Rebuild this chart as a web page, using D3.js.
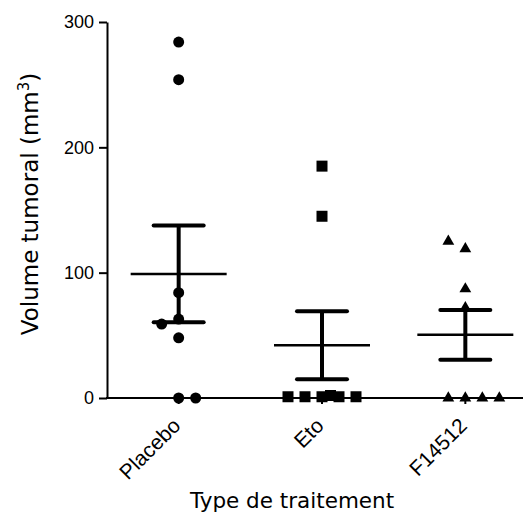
<!DOCTYPE html>
<html>
<head>
<meta charset="utf-8">
<script src="https://cdn.jsdelivr.net/npm/d3@7"></script>
<style>
  body { margin: 0; background: #fff; }
  .axis path, .axis line { stroke: #000; stroke-width: 2px; }
  .axis text { font-family: "Liberation Sans", Arial, sans-serif; font-size: 18px; fill: #000; }
  .x-labels text { font-size: 21px; }
  .title { font-family: "DejaVu Sans", Verdana, sans-serif; font-size: 21.5px; fill: #000; }
</style>
</head>
<body>
<div id="chart"></div>
<script>
// groups shown on the x axis
const categories = ['Placebo', 'Eto', 'F14512'];
const yTicks = [0, 100, 200, 300];

// tumour volume per animal (mm3)
const placeboValues = [284, 254, 84, 63, 59, 48, 0, 0];
const etoValues = [185, 145, 1, 1, 1, 2, 1, 1];
const f14512Values = [125, 119, 87, 72, 0, 0, 0, 0];

// side-by-side slot of each point when values overlap (as GraphPad spreads them)
const placeboSlots = [0, 0, 0, 0, -1, 0, 0, 1];
const etoSlots = [0, 0, -2, -1, 0, 0.5, 1, 2];
const f14512Slots = [-1, 0, 0, 0, -1, 0, 1, 2];

const width = 529;
const height = 514;
const plotTop = 22;
const plotBottom = 398;
const plotLeft = 107;
const axisEnd = 523;
const slotWidth = 17;
const markerSize = 11;

const groups = [
  {name: categories[0], values: placeboValues, slots: placeboSlots, symbol: d3.symbolCircle},
  {name: categories[1], values: etoValues, slots: etoSlots, symbol: d3.symbolSquare},
  {name: categories[2], values: f14512Values, slots: f14512Slots, symbol: d3.symbolTriangle}
];

var svg = d3.select('#chart').append('svg')
  .attr('width', width)
  .attr('height', height);

var x = d3.scaleBand()
  .domain(categories)
  .range([plotLeft, plotLeft + 430]);

var y = d3.scaleLinear()
  .domain([0, 300])
  .range([plotBottom, plotTop]);

// y axis
svg.append('g')
  .attr('class', 'axis')
  .attr('transform', 'translate(' + plotLeft + ',0)')
  .call(d3.axisLeft(y).tickValues(yTicks).tickSize(8).tickSizeOuter(0).tickPadding(5));

// x axis: ticks hang below the line, line is drawn by hand so it stops at axisEnd
var xAxis = svg.append('g')
  .attr('class', 'axis x-labels')
  .attr('transform', 'translate(0,' + plotBottom + ')')
  .call(d3.axisBottom(x).tickSize(6).tickSizeOuter(0));
xAxis.select('.domain').remove();
xAxis.append('line')
  .attr('x1', plotLeft - 1)
  .attr('x2', axisEnd);
xAxis.selectAll('.tick text')
  .attr('text-anchor', 'end')
  .attr('x', 0)
  .attr('y', 0)
  .attr('dy', 0)
  .attr('transform', 'translate(3,29) rotate(-45)');

// points
groups.forEach(function(g) {
  var cx = x(g.name) + x.bandwidth() / 2;
  var area = g.symbol === d3.symbolTriangle ? markerSize * markerSize * 0.5
    : g.symbol === d3.symbolCircle ? Math.PI * markerSize * markerSize / 4
    : markerSize * markerSize;
  var shape = d3.symbol().type(g.symbol).size(area);

  svg.append('g').selectAll('path')
    .data(g.values)
    .join('path')
    .attr('d', shape)
    .attr('transform', function(v, i) {
      return 'translate(' + (cx + g.slots[i] * slotWidth) + ',' + y(v) + ')';
    })
    .attr('fill', '#000');

  // mean with standard error bars
  var mean = d3.mean(g.values);
  var sem = d3.deviation(g.values) / Math.sqrt(g.values.length);
  var bars = svg.append('g').attr('stroke', '#000');
  bars.append('line')
    .attr('x1', cx - 48).attr('x2', cx + 48)
    .attr('y1', y(mean)).attr('y2', y(mean))
    .attr('stroke-width', 2.5);
  bars.append('line')
    .attr('x1', cx).attr('x2', cx)
    .attr('y1', y(mean + sem)).attr('y2', y(mean - sem))
    .attr('stroke-width', 4);
  [mean + sem, mean - sem].forEach(function(v) {
    bars.append('line')
      .attr('x1', cx - 25).attr('x2', cx + 25)
      .attr('y1', y(v)).attr('y2', y(v))
      .attr('stroke-width', 4)
      .attr('stroke-linecap', 'round');
  });
});

// titles
var yTitle = svg.append('text')
  .attr('class', 'title')
  .attr('transform', 'translate(38,204) rotate(-90)')
  .attr('text-anchor', 'middle')
  .style('font-size', '23px');
yTitle.append('tspan').text('Volume tumoral (mm');
yTitle.append('tspan')
  .attr('baseline-shift', 'super')
  .attr('font-size', '15px')
  .text('3');
yTitle.append('tspan').text(')');

svg.append('text')
  .attr('class', 'title')
  .attr('x', 292)
  .attr('y', 508)
  .attr('text-anchor', 'middle')
  .text('Type de traitement');
</script>
</body>
</html>
